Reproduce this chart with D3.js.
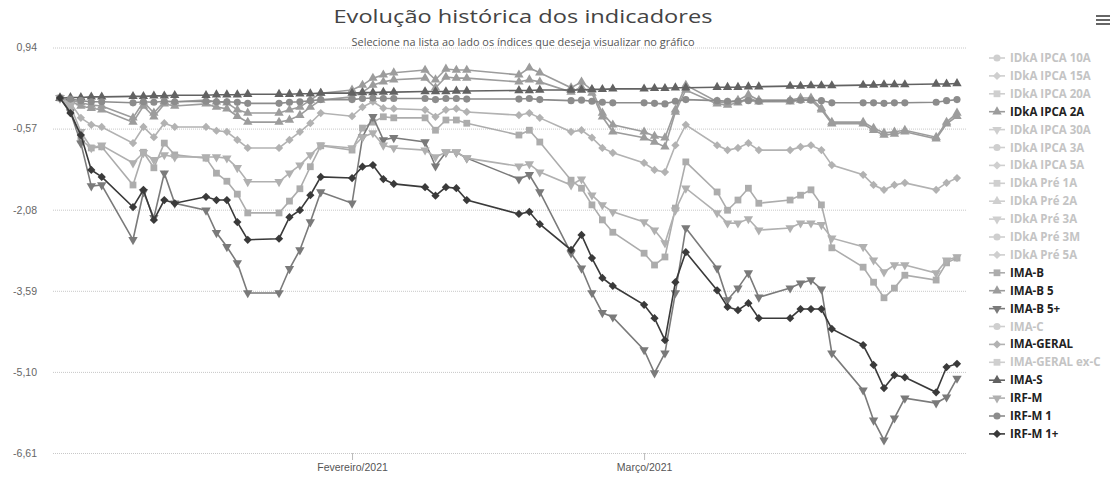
<!DOCTYPE html>
<html lang="pt-BR">
<head>
<meta charset="UTF-8">
<title>Evolução histórica dos indicadores</title>
<script src="https://d3js.org/d3.v7.min.js"></script>
<style>
  body { margin: 0; background: #fff; }
  svg { font-family: "Open Sans", "DejaVu Sans", sans-serif; }
  .grid line { stroke: #c8c8c8; stroke-dasharray: 1,1; }
  .grid .domain { display: none; }
  .ylab text { fill: #666; font-size: 10.5px; }
  .xaxis text { fill: #555; font-size: 10.5px; }
  .xaxis line, .xaxis path { stroke: #bbb; }
  .legend text { font-size: 11.5px; font-weight: bold; }
</style>
</head>
<body>
<svg width="1117" height="482"></svg>
<script>
// business days, Jan-Mar 2021
const dates = [
  "2021-01-04","2021-01-05","2021-01-06","2021-01-07","2021-01-08",
  "2021-01-11","2021-01-12","2021-01-13","2021-01-14","2021-01-15",
  "2021-01-18","2021-01-19","2021-01-20","2021-01-21","2021-01-22",
  "2021-01-25","2021-01-26","2021-01-27","2021-01-28","2021-01-29",
  "2021-02-01","2021-02-02","2021-02-03","2021-02-04","2021-02-05",
  "2021-02-08","2021-02-09","2021-02-10","2021-02-11","2021-02-12",
  "2021-02-17","2021-02-18","2021-02-19",
  "2021-02-22","2021-02-23","2021-02-24","2021-02-25","2021-02-26",
  "2021-03-01","2021-03-02","2021-03-03","2021-03-04","2021-03-05",
  "2021-03-08","2021-03-09","2021-03-10","2021-03-11","2021-03-12",
  "2021-03-15","2021-03-16","2021-03-17","2021-03-18","2021-03-19",
  "2021-03-22","2021-03-23","2021-03-24","2021-03-25","2021-03-26",
  "2021-03-29","2021-03-30","2021-03-31"
];

const idkaIpca2a = [
  0, -0.06, -0.15, -0.19, -0.22,
  -0.45, -0.15, -0.35, -0.11, -0.15,
  -0.11, -0.17, -0.20, -0.34, -0.45,
  -0.45, -0.41, -0.32, -0.17, -0.04,
  0.02, 0.11, 0.24, 0.30, 0.34,
  0.37, 0.19, 0.39, 0.37, 0.37,
  0.30, 0.34, 0.30,
  0.11, 0.20, 0.09, -0.35, -0.63,
  -0.74, -0.82, -0.91, -0.26, 0.15,
  -0.11, -0.13, -0.09, 0, -0.07,
  -0.07, -0.04, -0.04, -0.22, -0.48,
  -0.48, -0.60, -0.69, -0.67, -0.63,
  -0.76, -0.48, -0.34
];
const imaB = [
  0, -0.22, -0.78, -0.93, -0.91,
  -1.62, -1.01, -1.30, -0.84, -1.06,
  -1.12, -1.40, -1.55, -1.79, -2.14,
  -2.14, -1.92, -1.69, -1.28, -0.89,
  -0.97, -0.56, -0.45, -0.35, -0.37,
  -0.37, -0.60, -0.41, -0.41, -0.47,
  -0.69, -0.60, -0.82,
  -1.53, -1.68, -1.99, -2.27, -2.50,
  -2.89, -3.11, -2.96, -2.05, -1.19,
  -1.75, -2.09, -1.90, -1.68, -1.96,
  -1.90, -1.81, -1.71, -1.99, -2.79,
  -3.15, -3.43, -3.72, -3.54, -3.30,
  -3.39, -3.07, -2.98
];
const imaB5 = [
  0, -0.04, -0.09, -0.13, -0.15,
  -0.37, -0.07, -0.28, -0.06, -0.07,
  -0.04, -0.07, -0.09, -0.22, -0.28,
  -0.28, -0.22, -0.17, -0.04, 0.09,
  0.15, 0.24, 0.37, 0.43, 0.47,
  0.52, 0.34, 0.54, 0.52, 0.52,
  0.43, 0.56, 0.47,
  0.19, 0.30, 0.15, -0.28, -0.50,
  -0.63, -0.71, -0.74, -0.22, 0.24,
  -0.07, -0.09, -0.04, 0.06, -0.04,
  -0.04, 0, 0, -0.19, -0.45,
  -0.45, -0.56, -0.65, -0.63, -0.60,
  -0.73, -0.45, -0.28
];
const imaB5Plus = [
  0, -0.26, -0.84, -1.64, -1.62,
  -2.64, -1.75, -2.23, -1.40, -1.96,
  -2.09, -2.51, -2.77, -3.07, -3.63,
  -3.63, -3.18, -2.83, -2.31, -1.75,
  -1.96, -0.73, -0.35, -0.78, -0.74,
  -0.82, -1.27, -1.01, -1.01, -1.12,
  -1.51, -1.43, -1.75,
  -2.89, -3.17, -3.63, -4.00, -4.08,
  -4.69, -5.12, -4.75, -3.63, -2.42,
  -3.17, -3.76, -3.54, -3.26, -3.71,
  -3.54, -3.45, -3.39, -3.56, -4.75,
  -5.44, -6.00, -6.37, -5.96, -5.59,
  -5.68, -5.57, -5.22
];
const imaGeral = [
  0, -0.09, -0.37, -0.50, -0.54,
  -0.84, -0.54, -0.73, -0.47, -0.54,
  -0.54, -0.61, -0.63, -0.78, -0.93,
  -0.93, -0.78, -0.63, -0.47, -0.28,
  -0.34, -0.17, -0.07, -0.19, -0.20,
  -0.22, -0.35, -0.22, -0.20, -0.26,
  -0.32, -0.28, -0.37,
  -0.63, -0.60, -0.74, -0.93, -1.02,
  -1.21, -1.34, -1.38, -0.88, -0.50,
  -0.88, -0.97, -0.93, -0.84, -0.97,
  -0.97, -0.91, -0.88, -0.97, -1.25,
  -1.43, -1.62, -1.71, -1.62, -1.58,
  -1.71, -1.58, -1.49
];
const imaS = [
  0, 0.01, 0.01, 0.02, 0.02,
  0.03, 0.03, 0.04, 0.04, 0.05,
  0.05, 0.06, 0.06, 0.06, 0.07,
  0.07, 0.07, 0.08, 0.08, 0.09,
  0.09, 0.10, 0.10, 0.11, 0.11,
  0.12, 0.12, 0.12, 0.13, 0.13,
  0.14, 0.14, 0.15,
  0.15, 0.15, 0.16, 0.16, 0.17,
  0.17, 0.18, 0.18, 0.19, 0.19,
  0.20, 0.20, 0.20, 0.21, 0.21,
  0.22, 0.22, 0.23, 0.23, 0.23,
  0.24, 0.24, 0.25, 0.25, 0.25,
  0.26, 0.26, 0.27
];
const irfM = [
  0, -0.15, -0.63, -0.93, -0.88,
  -1.21, -1.02, -1.15, -1.06, -1.10,
  -1.10, -1.10, -1.12, -1.30, -1.56,
  -1.56, -1.40, -1.25, -1.06, -0.88,
  -0.93, -0.73, -0.65, -0.88, -0.93,
  -0.97, -1.10, -1.01, -1.01, -1.12,
  -1.27, -1.23, -1.38,
  -1.62, -1.51, -1.81, -1.99, -2.12,
  -2.31, -2.46, -2.70, -2.09, -1.68,
  -2.14, -2.33, -2.33, -2.25, -2.46,
  -2.42, -2.33, -2.33, -2.36, -2.61,
  -2.77, -3.02, -3.24, -3.11, -3.11,
  -3.26, -3.02, -2.96
];
const irfM1 = [
  0, -0.02, -0.05, -0.07, -0.07,
  -0.09, -0.07, -0.08, -0.06, -0.07,
  -0.06, -0.07, -0.07, -0.08, -0.10,
  -0.10, -0.08, -0.07, -0.05, -0.03,
  -0.03, -0.01, 0.00, -0.01, -0.01,
  -0.01, -0.03, -0.01, -0.01, -0.02,
  -0.02, -0.01, -0.03,
  -0.05, -0.04, -0.06, -0.08, -0.09,
  -0.09, -0.10, -0.11, -0.06, -0.03,
  -0.05, -0.06, -0.06, -0.05, -0.06,
  -0.05, -0.04, -0.04, -0.05, -0.09,
  -0.09, -0.09, -0.10, -0.09, -0.09,
  -0.08, -0.05, -0.03
];
const irfM1Plus = [
  0, -0.28, -0.69, -1.34, -1.47,
  -2.03, -1.71, -2.27, -1.90, -1.96,
  -1.84, -1.90, -1.90, -2.31, -2.64,
  -2.62, -2.22, -2.09, -1.81, -1.47,
  -1.49, -1.28, -1.25, -1.51, -1.60,
  -1.66, -1.82, -1.66, -1.68, -1.90,
  -2.16, -2.12, -2.35,
  -2.83, -2.55, -2.98, -3.35, -3.50,
  -3.85, -4.10, -4.51, -3.43, -2.87,
  -3.58, -3.89, -3.95, -3.82, -4.10,
  -4.10, -3.93, -3.93, -3.93, -4.30,
  -4.60, -4.97, -5.40, -5.16, -5.20,
  -5.48, -5.01, -4.95
];

// legend order = series order
const seriesNames = [
  "IDkA IPCA 10A", "IDkA IPCA 15A", "IDkA IPCA 20A", "IDkA IPCA 2A",
  "IDkA IPCA 30A", "IDkA IPCA 3A", "IDkA IPCA 5A", "IDkA Pré 1A",
  "IDkA Pré 2A", "IDkA Pré 3A", "IDkA Pré 3M", "IDkA Pré 5A",
  "IMA-B", "IMA-B 5", "IMA-B 5+", "IMA-C", "IMA-GERAL", "IMA-GERAL ex-C",
  "IMA-S", "IRF-M", "IRF-M 1", "IRF-M 1+"
];
// only these are switched on
const shownSeries = {
  "IDkA IPCA 2A": idkaIpca2a,
  "IMA-B": imaB,
  "IMA-B 5": imaB5,
  "IMA-B 5+": imaB5Plus,
  "IMA-GERAL": imaGeral,
  "IMA-S": imaS,
  "IRF-M": irfM,
  "IRF-M 1": irfM1,
  "IRF-M 1+": irfM1Plus
};

const yTicks = [0.94, -0.57, -2.08, -3.59, -5.10, -6.61];
const xTicks = ["2021-02-01", "2021-03-01"];
const xTickLabels = ["Fevereiro/2021", "Março/2021"];

// grey version of the default palette (the picture is a greyscale scan)
const greys = ["#8c8c8c", "#3a3a3a", "#acacac", "#9c9c9c", "#7a7a7a",
               "#999999", "#b2b2b2", "#777777", "#626262", "#b0b0b0"];
const symbols = ["circle", "diamond", "square", "triangle", "triangle-down"];

const svg = d3.select("svg");
const parse = d3.utcParse("%Y-%m-%d");
const left = 53, right = 966;

const x = d3.scaleUtc()
  .domain([parse(dates[0]), parse(dates[dates.length - 1])])
  .range([60, 957]);
const y = d3.scaleLinear().domain([-6.61, 0.94]).range([453, 47.5]);

// title + subtitle
svg.append("text")
  .attr("x", 523).attr("y", 23)
  .attr("text-anchor", "middle")
  .attr("textLength", 379).attr("lengthAdjust", "spacingAndGlyphs")
  .style("font-size", "18px").style("fill", "#444")
  .text("Evolução histórica dos indicadores");

// grid
svg.append("g")
  .attr("class", "grid ylab")
  .attr("transform", `translate(${left},0)`)
  .call(d3.axisLeft(y).tickValues(yTicks).tickSize(-(right - left)).tickPadding(16)
    .tickFormat(d => d.toFixed(2).replace(".", ",")));

svg.append("text")
  .attr("x", 523).attr("y", 46)
  .attr("text-anchor", "middle")
  .attr("textLength", 343).attr("lengthAdjust", "spacingAndGlyphs")
  .style("font-size", "10px").style("fill", "#555")
  .text("Selecione na lista ao lado os índices que deseja visualizar no gráfico");

// x axis
const xAxis = svg.append("g")
  .attr("class", "xaxis")
  .attr("transform", "translate(0,453)")
  .call(d3.axisBottom(x).tickValues(xTicks.map(parse)).tickSize(7).tickPadding(4)
    .tickFormat((d, i) => xTickLabels[i]));
xAxis.select(".domain").remove();

// menu button
[16, 20, 24].forEach(yy => {
  svg.append("line")
    .attr("x1", 1096).attr("x2", 1110).attr("y1", yy).attr("y2", yy)
    .attr("stroke", "#666").attr("stroke-width", 2);
});

function symbolPath(kind, size) {
  const t = (kind === "circle") ? d3.symbolCircle
    : (kind === "triangle" || kind === "triangle-down") ? d3.symbolTriangle
    : d3.symbolSquare;
  return d3.symbol(t, size)();
}
function symbolRotate(kind) {
  if (kind === "diamond") return 45;
  if (kind === "triangle-down") return 180;
  return 0;
}
function symbolSize(kind) {
  if (kind === "circle") return 40;
  if (kind === "square") return 46;
  if (kind === "diamond") return 34;
  return 38;
}

const line = d3.line()
  .x(d => x(d.date))
  .y(d => y(d.value));

const plot = svg.append("g");
seriesNames.forEach((name, i) => {
  const vals = shownSeries[name];
  if (!vals) return;
  const color = greys[i % 10];
  const kind = symbols[i % 5];
  const pts = dates.map((d, k) => ({ date: parse(d), value: vals[k] }));

  plot.append("path")
    .datum(pts)
    .attr("fill", "none")
    .attr("stroke", color)
    .attr("stroke-width", 1.6)
    .attr("d", line);

  plot.selectAll(null)
    .data(pts)
    .join("path")
    .attr("d", symbolPath(kind, symbolSize(kind)))
    .attr("transform", d => `translate(${x(d.date)},${y(d.value)}) rotate(${symbolRotate(kind)})`)
    .attr("fill", color);
});

// legend
const legend = svg.append("g").attr("class", "legend");
seriesNames.forEach((name, i) => {
  const on = !!shownSeries[name];
  const cy = 58 + i * 17.9;
  const color = on ? greys[i % 10] : "#cfcfcf";
  const kind = symbols[i % 5];
  const item = legend.append("g").attr("transform", `translate(0,${cy})`);
  item.append("line")
    .attr("x1", 989).attr("x2", 1005)
    .attr("stroke", color).attr("stroke-width", 1.6);
  item.append("path")
    .attr("d", symbolPath(kind, symbolSize(kind)))
    .attr("transform", `translate(997,0) rotate(${symbolRotate(kind)})`)
    .attr("fill", color);
  item.append("text")
    .attr("x", 1010).attr("y", 4)
    .style("fill", on ? "#222" : "#c4c4c4")
    .text(name);
});
</script>
</body>
</html>
